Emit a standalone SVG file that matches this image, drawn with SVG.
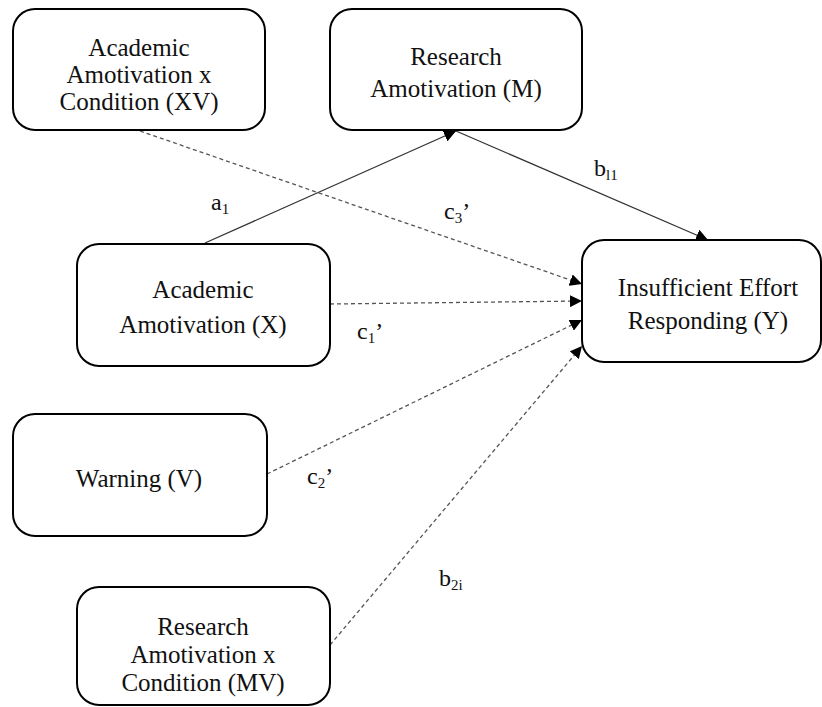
<svg xmlns="http://www.w3.org/2000/svg" width="822" height="707" viewBox="0 0 822 707">
<style>
.box{fill:#fff;stroke:#000;stroke-width:2}
.t{font-family:"Liberation Serif","Times New Roman",serif;font-size:25px;fill:#111;text-anchor:middle}
.l{font-family:"Liberation Serif","Times New Roman",serif;font-size:24px;fill:#111}
.solid{stroke:#333;stroke-width:1.3;fill:none}
.dash{stroke:#555;stroke-width:1.3;fill:none;stroke-dasharray:4 3}
</style>
<defs>
<marker id="ah" viewBox="0 0 10 10" refX="10" refY="5" markerWidth="12" markerHeight="12" markerUnits="userSpaceOnUse" orient="auto">
<path d="M0,0 L10,5 L0,10 z" fill="#000"/>
</marker>
</defs>
<g id="connectors">
<line class="solid" x1="205" y1="243" x2="456" y2="131" marker-end="url(#ah)"/>
<line class="solid" x1="456" y1="131" x2="708" y2="240" marker-end="url(#ah)"/>
<line class="dash" x1="140" y1="131" x2="582" y2="284" marker-end="url(#ah)"/>
<line class="dash" x1="330" y1="304" x2="582" y2="301" marker-end="url(#ah)"/>
<line class="dash" x1="267" y1="474" x2="582" y2="320" marker-end="url(#ah)"/>
<line class="dash" x1="330" y1="645" x2="582" y2="346" marker-end="url(#ah)"/>
</g>
<g id="labels">
<text class="l" x="211" y="210">a<tspan font-size="15" dy="4">1</tspan></text>
<text class="l" x="594" y="176">b<tspan font-size="15" dy="4">l1</tspan></text>
<text class="l" x="444" y="219">c<tspan font-size="15" dy="4">3</tspan><tspan dy="-4">’</tspan></text>
<text class="l" x="357" y="339">c<tspan font-size="15" dy="4">1</tspan><tspan dy="-4">’</tspan></text>
<text class="l" x="307" y="484">c<tspan font-size="15" dy="4">2</tspan><tspan dy="-4">’</tspan></text>
<text class="l" x="439" y="586">b<tspan font-size="15" dy="4">2i</tspan></text>
</g>
<g id="node-xv">
<rect class="box" x="13" y="9" width="252" height="121" rx="22"/>
<text class="t" x="139" y="56">Academic</text>
<text class="t" x="139" y="83">Amotivation x</text>
<text class="t" x="139" y="110">Condition (XV)</text>
</g>
<g id="node-m">
<rect class="box" x="330" y="9" width="252" height="121" rx="22"/>
<text class="t" x="456" y="65">Research</text>
<text class="t" x="456" y="97">Amotivation (M)</text>
</g>
<g id="node-x">
<rect class="box" x="77" y="244" width="253" height="122" rx="22"/>
<text class="t" x="203" y="298">Academic</text>
<text class="t" x="203" y="333">Amotivation (X)</text>
</g>
<g id="node-y">
<rect class="box" x="582" y="240" width="239" height="122" rx="22"/>
<text class="t" x="708" y="296" font-size="26">Insufficient Effort</text>
<text class="t" x="708" y="329" font-size="26">Responding (Y)</text>
</g>
<g id="node-v">
<rect class="box" x="13" y="414" width="254" height="122" rx="22"/>
<text class="t" x="139" y="487">Warning (V)</text>
</g>
<g id="node-mv">
<rect class="box" x="77" y="587" width="253" height="118" rx="22"/>
<text class="t" x="203" y="635">Research</text>
<text class="t" x="203" y="663">Amotivation x</text>
<text class="t" x="203" y="691">Condition (MV)</text>
</g>
</svg>
